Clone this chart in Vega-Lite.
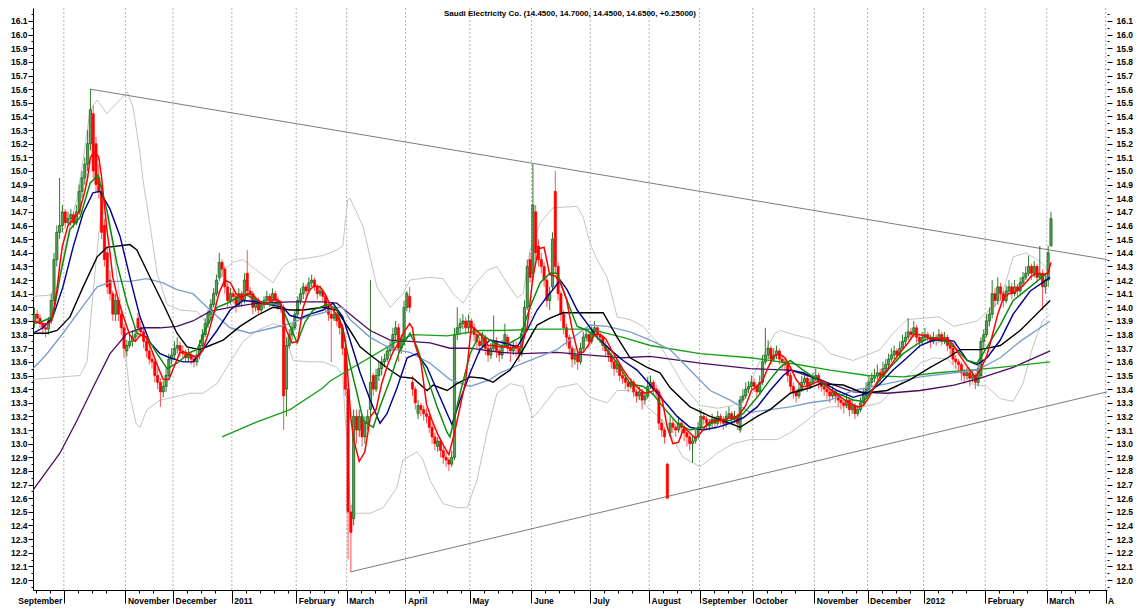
{
"$schema": "https://vega.github.io/schema/vega-lite/v6.json",
"width": 1074, "height": 582,
"autosize": {"type": "none"},
"padding": {"left": 33, "top": 8, "right": 37, "bottom": 19},
"background": "white",
"title": {"text": "Saudi Electricity Co. (14.4500, 14.7000, 14.4500, 14.6500, +0.25000)", "fontSize": 8, "fontWeight": "bold", "font": "Liberation Sans", "anchor": "middle", "frame": "group", "offset": -10, "color": "#000000"},
"config": {"view": {"stroke": null}, "font": "Liberation Sans"},
"datasets": {
"months": [{"t":10.5},{"t":32.5},{"t":49.5},{"t":70.5},{"t":93.5},{"t":111.5},{"t":132.5},{"t":155.5},{"t":177.5},{"t":198.5},{"t":219.5},{"t":237.5},{"t":256.5},{"t":278.5},{"t":297.5},{"t":317.5},{"t":339.5},{"t":361.5},{"t":382.5}],
"trend": [{"s":"a","t":19.9,"p":15.6},{"s":"a","t":383,"p":14.35},{"s":"b","t":112.9,"p":12.06},{"s":"b","t":383,"p":13.38}],
"bb": [
{"s":"u","t":-0.5,"p":14.08},{"s":"u","t":5.6,"p":14.09},{"s":"u","t":8.1,"p":14.15},{"s":"u","t":11.6,"p":14.5},{"s":"u","t":15.2,"p":14.8},{"s":"u","t":17.4,"p":15.08},{"s":"u","t":19.9,"p":15.45},{"s":"u","t":22.4,"p":15.52},{"s":"u","t":25.9,"p":15.42},{"s":"u","t":29.5,"p":15.5},{"s":"u","t":33.1,"p":15.58},{"s":"u","t":35.2,"p":15.47},{"s":"u","t":37.7,"p":15.13},{"s":"u","t":38.8,"p":14.93},{"s":"u","t":41.3,"p":14.6},{"s":"u","t":43.8,"p":14.25},{"s":"u","t":47.4,"p":14.02},{"s":"u","t":52,"p":13.98},{"s":"u","t":58.1,"p":13.97},{"s":"u","t":61.6,"p":13.88},{"s":"u","t":63.5,"p":14.05},{"s":"u","t":67.4,"p":14.27},{"s":"u","t":70.9,"p":14.33},{"s":"u","t":74.5,"p":14.35},{"s":"u","t":79.5,"p":14.27},{"s":"u","t":85.2,"p":14.18},{"s":"u","t":88.8,"p":14.3},{"s":"u","t":92.4,"p":14.35},{"s":"u","t":97.4,"p":14.36},{"s":"u","t":103.1,"p":14.38},{"s":"u","t":108,"p":14.42},{"s":"u","t":110.1,"p":14.45},{"s":"u","t":111.9,"p":14.79},{"s":"u","t":112.7,"p":14.8},{"s":"u","t":117.4,"p":14.59},{"s":"u","t":122.3,"p":14.15},{"s":"u","t":127,"p":14.0},{"s":"u","t":131.6,"p":14.1},{"s":"u","t":134.1,"p":14.2},{"s":"u","t":141.3,"p":14.22},{"s":"u","t":145.9,"p":14.21},{"s":"u","t":149.5,"p":14.1},{"s":"u","t":153.1,"p":14.03},{"s":"u","t":156.6,"p":14.15},{"s":"u","t":161.6,"p":14.27},{"s":"u","t":165.2,"p":14.3},{"s":"u","t":167.4,"p":14.22},{"s":"u","t":172.4,"p":14.07},{"s":"u","t":174.5,"p":14.1},{"s":"u","t":177,"p":14.42},{"s":"u","t":180.6,"p":14.62},{"s":"u","t":185.2,"p":14.73},{"s":"u","t":193.8,"p":14.74},{"s":"u","t":196,"p":14.66},{"s":"u","t":198.4,"p":14.47},{"s":"u","t":200.9,"p":14.35},{"s":"u","t":204.5,"p":14.22},{"s":"u","t":208.1,"p":13.93},{"s":"u","t":212.7,"p":13.91},{"s":"u","t":217.4,"p":13.86},{"s":"u","t":219.9,"p":13.8},{"s":"u","t":223.4,"p":13.72},{"s":"u","t":227,"p":13.6},{"s":"u","t":232,"p":13.42},{"s":"u","t":237.7,"p":13.28},{"s":"u","t":244,"p":13.26},{"s":"u","t":249.5,"p":13.28},{"s":"u","t":254,"p":13.36},{"s":"u","t":258.7,"p":13.59},{"s":"u","t":264.4,"p":13.81},{"s":"u","t":266.5,"p":13.83},{"s":"u","t":271,"p":13.8},{"s":"u","t":277,"p":13.77},{"s":"u","t":280.6,"p":13.74},{"s":"u","t":284.1,"p":13.66},{"s":"u","t":292.4,"p":13.61},{"s":"u","t":302,"p":13.69},{"s":"u","t":306.6,"p":13.81},{"s":"u","t":311.6,"p":13.91},{"s":"u","t":323,"p":13.93},{"s":"u","t":328.4,"p":13.86},{"s":"u","t":336.6,"p":13.9},{"s":"u","t":344.9,"p":14.05},{"s":"u","t":349.5,"p":14.37},{"s":"u","t":354,"p":14.4},{"s":"u","t":358,"p":14.35},{"s":"u","t":361,"p":14.3},{"s":"u","t":362.7,"p":14.2},
{"s":"l","t":-0.5,"p":13.47},{"s":"l","t":10.2,"p":13.49},{"s":"l","t":16.3,"p":13.5},{"s":"l","t":18.8,"p":13.6},{"s":"l","t":20.9,"p":14.1},{"s":"l","t":23.8,"p":14.7},{"s":"l","t":25.9,"p":14.68},{"s":"l","t":28.1,"p":14.45},{"s":"l","t":30.6,"p":14.05},{"s":"l","t":32.4,"p":13.7},{"s":"l","t":34.1,"p":13.35},{"s":"l","t":36.3,"p":13.15},{"s":"l","t":37.7,"p":13.12},{"s":"l","t":40.2,"p":13.25},{"s":"l","t":44.9,"p":13.32},{"s":"l","t":49.5,"p":13.34},{"s":"l","t":55.6,"p":13.37},{"s":"l","t":60.2,"p":13.37},{"s":"l","t":65.2,"p":13.44},{"s":"l","t":69.9,"p":13.6},{"s":"l","t":74.5,"p":13.75},{"s":"l","t":79.5,"p":13.83},{"s":"l","t":85.2,"p":13.88},{"s":"l","t":88.8,"p":13.86},{"s":"l","t":90.2,"p":13.75},{"s":"l","t":92.4,"p":13.61},{"s":"l","t":98.4,"p":13.6},{"s":"l","t":103.1,"p":13.6},{"s":"l","t":108,"p":13.56},{"s":"l","t":110.1,"p":13.5},{"s":"l","t":111.9,"p":12.88},{"s":"l","t":112.7,"p":12.59},{"s":"l","t":113.8,"p":12.49},{"s":"l","t":119.9,"p":12.49},{"s":"l","t":124.5,"p":12.53},{"s":"l","t":129.5,"p":12.68},{"s":"l","t":131.6,"p":12.88},{"s":"l","t":136.6,"p":12.94},{"s":"l","t":138.8,"p":12.88},{"s":"l","t":141.3,"p":12.73},{"s":"l","t":145.9,"p":12.56},{"s":"l","t":150.9,"p":12.53},{"s":"l","t":154.5,"p":12.53},{"s":"l","t":158,"p":12.73},{"s":"l","t":161.6,"p":13.08},{"s":"l","t":165.2,"p":13.37},{"s":"l","t":169.9,"p":13.44},{"s":"l","t":174.5,"p":13.42},{"s":"l","t":178,"p":13.19},{"s":"l","t":180.6,"p":13.25},{"s":"l","t":186.6,"p":13.41},{"s":"l","t":193.8,"p":13.44},{"s":"l","t":198.4,"p":13.34},{"s":"l","t":204.5,"p":13.3},{"s":"l","t":208.1,"p":13.39},{"s":"l","t":212.7,"p":13.39},{"s":"l","t":217.4,"p":13.3},{"s":"l","t":219.9,"p":13.25},{"s":"l","t":224.5,"p":13.17},{"s":"l","t":231.6,"p":12.9},{"s":"l","t":237.7,"p":12.83},{"s":"l","t":243.8,"p":12.93},{"s":"l","t":249.5,"p":13.0},{"s":"l","t":255.6,"p":13.03},{"s":"l","t":265.2,"p":13.03},{"s":"l","t":269.9,"p":13.08},{"s":"l","t":275.9,"p":13.17},{"s":"l","t":280.6,"p":13.25},{"s":"l","t":284.1,"p":13.27},{"s":"l","t":288.8,"p":13.27},{"s":"l","t":294,"p":13.26},{"s":"l","t":298,"p":13.28},{"s":"l","t":302,"p":13.3},{"s":"l","t":306.6,"p":13.39},{"s":"l","t":311.6,"p":13.49},{"s":"l","t":316.3,"p":13.59},{"s":"l","t":321.1,"p":13.63},{"s":"l","t":326.1,"p":13.62},{"s":"l","t":330.6,"p":13.52},{"s":"l","t":334.5,"p":13.44},{"s":"l","t":340,"p":13.42},{"s":"l","t":344.9,"p":13.33},{"s":"l","t":349.5,"p":13.31},{"s":"l","t":353,"p":13.44},{"s":"l","t":356.5,"p":13.71},{"s":"l","t":360,"p":13.9},{"s":"l","t":362.7,"p":13.95}
],
"ma": [
{"s":"p","t":-0.5,"p":12.66},{"s":"p","t":9.1,"p":12.93},{"s":"p","t":15.2,"p":13.17},{"s":"p","t":20.9,"p":13.41},{"s":"p","t":27,"p":13.66},{"s":"p","t":33.1,"p":13.81},{"s":"p","t":38.8,"p":13.85},{"s":"p","t":44.9,"p":13.85},{"s":"p","t":50.9,"p":13.86},{"s":"p","t":56.6,"p":13.9},{"s":"p","t":62.7,"p":13.97},{"s":"p","t":69.9,"p":14.0},{"s":"p","t":79.5,"p":14.03},{"s":"p","t":91.3,"p":14.04},{"s":"p","t":103.1,"p":14.04},{"s":"p","t":108,"p":14.03},{"s":"p","t":112.7,"p":13.95},{"s":"p","t":119.9,"p":13.83},{"s":"p","t":127,"p":13.76},{"s":"p","t":134.1,"p":13.75},{"s":"p","t":141.3,"p":13.74},{"s":"p","t":148.4,"p":13.7},{"s":"p","t":155.6,"p":13.7},{"s":"p","t":166.3,"p":13.67},{"s":"p","t":174.5,"p":13.66},{"s":"p","t":186.6,"p":13.67},{"s":"p","t":198.4,"p":13.65},{"s":"p","t":210.2,"p":13.63},{"s":"p","t":219.9,"p":13.64},{"s":"p","t":237.7,"p":13.59},{"s":"p","t":255.6,"p":13.55},{"s":"p","t":269.9,"p":13.54},{"s":"p","t":280.6,"p":13.47},{"s":"p","t":284.1,"p":13.44},{"s":"p","t":292.4,"p":13.38},{"s":"p","t":304.5,"p":13.37},{"s":"p","t":316.3,"p":13.39},{"s":"p","t":328.4,"p":13.43},{"s":"p","t":337.7,"p":13.48},{"s":"p","t":349.5,"p":13.56},{"s":"p","t":362.7,"p":13.68},
{"s":"g","t":67,"p":13.05},{"s":"g","t":79.5,"p":13.16},{"s":"g","t":91.3,"p":13.25},{"s":"g","t":103.1,"p":13.41},{"s":"g","t":105.6,"p":13.46},{"s":"g","t":116.3,"p":13.59},{"s":"g","t":129.5,"p":13.75},{"s":"g","t":135.2,"p":13.8},{"s":"g","t":147.4,"p":13.79},{"s":"g","t":153.1,"p":13.81},{"s":"g","t":159.1,"p":13.83},{"s":"g","t":166.3,"p":13.83},{"s":"g","t":180.6,"p":13.84},{"s":"g","t":198.4,"p":13.84},{"s":"g","t":210.2,"p":13.78},{"s":"g","t":219.9,"p":13.72},{"s":"g","t":237.7,"p":13.66},{"s":"g","t":255.6,"p":13.63},{"s":"g","t":269.9,"p":13.59},{"s":"g","t":284.1,"p":13.54},{"s":"g","t":297.4,"p":13.5},{"s":"g","t":310.2,"p":13.49},{"s":"g","t":322.5,"p":13.52},{"s":"g","t":334.1,"p":13.54},{"s":"g","t":344.9,"p":13.56},{"s":"g","t":362.7,"p":13.6},
{"s":"lb","t":-0.5,"p":13.55},{"s":"lb","t":4.5,"p":13.66},{"s":"lb","t":10.2,"p":13.81},{"s":"lb","t":16.3,"p":13.98},{"s":"lb","t":22.4,"p":14.15},{"s":"lb","t":28.1,"p":14.19},{"s":"lb","t":34.1,"p":14.19},{"s":"lb","t":40.2,"p":14.21},{"s":"lb","t":45.9,"p":14.18},{"s":"lb","t":50.9,"p":14.13},{"s":"lb","t":56.6,"p":14.1},{"s":"lb","t":62.7,"p":13.98},{"s":"lb","t":69.9,"p":13.85},{"s":"lb","t":77,"p":13.81},{"s":"lb","t":85.2,"p":13.85},{"s":"lb","t":91.3,"p":13.88},{"s":"lb","t":97.4,"p":13.93},{"s":"lb","t":103.1,"p":13.96},{"s":"lb","t":108,"p":14.0},{"s":"lb","t":110.1,"p":14.0},{"s":"lb","t":112.7,"p":13.91},{"s":"lb","t":119.9,"p":13.78},{"s":"lb","t":127,"p":13.7},{"s":"lb","t":134.1,"p":13.67},{"s":"lb","t":141.3,"p":13.59},{"s":"lb","t":148.4,"p":13.47},{"s":"lb","t":155.6,"p":13.42},{"s":"lb","t":162.7,"p":13.47},{"s":"lb","t":166.3,"p":13.52},{"s":"lb","t":174.5,"p":13.59},{"s":"lb","t":186.6,"p":13.69},{"s":"lb","t":192.4,"p":13.78},{"s":"lb","t":198.4,"p":13.87},{"s":"lb","t":204.5,"p":13.86},{"s":"lb","t":212.7,"p":13.82},{"s":"lb","t":219.9,"p":13.76},{"s":"lb","t":227,"p":13.69},{"s":"lb","t":234.1,"p":13.54},{"s":"lb","t":241.3,"p":13.39},{"s":"lb","t":248.4,"p":13.32},{"s":"lb","t":255.6,"p":13.23},{"s":"lb","t":262.7,"p":13.25},{"s":"lb","t":269.9,"p":13.27},{"s":"lb","t":277,"p":13.3},{"s":"lb","t":284.1,"p":13.32},{"s":"lb","t":292.4,"p":13.39},{"s":"lb","t":304.5,"p":13.44},{"s":"lb","t":316.3,"p":13.49},{"s":"lb","t":328.4,"p":13.52},{"s":"lb","t":336.6,"p":13.54},{"s":"lb","t":344.9,"p":13.63},{"s":"lb","t":352,"p":13.75},{"s":"lb","t":362.7,"p":13.9},
{"s":"k","t":-0.5,"p":13.81},{"s":"k","t":4.5,"p":13.81},{"s":"k","t":8.1,"p":13.83},{"s":"k","t":12.7,"p":13.93},{"s":"k","t":17.4,"p":14.15},{"s":"k","t":22.4,"p":14.37},{"s":"k","t":25.9,"p":14.44},{"s":"k","t":34.1,"p":14.46},{"s":"k","t":36.6,"p":14.42},{"s":"k","t":41.3,"p":14.22},{"s":"k","t":45.9,"p":14.03},{"s":"k","t":50.9,"p":13.81},{"s":"k","t":54.5,"p":13.71},{"s":"k","t":59.1,"p":13.69},{"s":"k","t":62.7,"p":13.72},{"s":"k","t":67.4,"p":13.76},{"s":"k","t":73.4,"p":13.86},{"s":"k","t":79.5,"p":13.94},{"s":"k","t":85.2,"p":14.0},{"s":"k","t":91.3,"p":13.98},{"s":"k","t":96,"p":13.98},{"s":"k","t":103.1,"p":14.0},{"s":"k","t":108,"p":13.98},{"s":"k","t":112.7,"p":13.83},{"s":"k","t":116.3,"p":13.71},{"s":"k","t":119.9,"p":13.65},{"s":"k","t":127,"p":13.54},{"s":"k","t":130.6,"p":13.49},{"s":"k","t":135.2,"p":13.48},{"s":"k","t":140.2,"p":13.39},{"s":"k","t":142.4,"p":13.43},{"s":"k","t":147.4,"p":13.39},{"s":"k","t":150.9,"p":13.44},{"s":"k","t":155.6,"p":13.49},{"s":"k","t":160.2,"p":13.48},{"s":"k","t":163.8,"p":13.45},{"s":"k","t":166.3,"p":13.49},{"s":"k","t":169.9,"p":13.54},{"s":"k","t":174.5,"p":13.69},{"s":"k","t":179.5,"p":13.87},{"s":"k","t":184.1,"p":13.92},{"s":"k","t":188.8,"p":13.96},{"s":"k","t":198.4,"p":13.96},{"s":"k","t":203.1,"p":13.96},{"s":"k","t":208.1,"p":13.78},{"s":"k","t":212.7,"p":13.63},{"s":"k","t":218.8,"p":13.56},{"s":"k","t":223.4,"p":13.52},{"s":"k","t":227,"p":13.41},{"s":"k","t":234.1,"p":13.27},{"s":"k","t":241.3,"p":13.2},{"s":"k","t":248.4,"p":13.15},{"s":"k","t":252,"p":13.12},{"s":"k","t":258.1,"p":13.2},{"s":"k","t":262.7,"p":13.25},{"s":"k","t":269.9,"p":13.37},{"s":"k","t":277,"p":13.41},{"s":"k","t":280.6,"p":13.44},{"s":"k","t":288.8,"p":13.43},{"s":"k","t":296.1,"p":13.37},{"s":"k","t":304.5,"p":13.39},{"s":"k","t":312.7,"p":13.47},{"s":"k","t":319.9,"p":13.56},{"s":"k","t":326.1,"p":13.63},{"s":"k","t":330.6,"p":13.69},{"s":"k","t":337.7,"p":13.69},{"s":"k","t":344.9,"p":13.72},{"s":"k","t":352,"p":13.83},{"s":"k","t":362.7,"p":14.05},
{"s":"b","t":-0.5,"p":13.81},{"s":"b","t":3.1,"p":13.85},{"s":"b","t":6.6,"p":13.93},{"s":"b","t":10.2,"p":14.15},{"s":"b","t":13.8,"p":14.44},{"s":"b","t":17.4,"p":14.69},{"s":"b","t":20.9,"p":14.84},{"s":"b","t":23.4,"p":14.85},{"s":"b","t":27,"p":14.72},{"s":"b","t":30.6,"p":14.52},{"s":"b","t":34.1,"p":14.22},{"s":"b","t":37.7,"p":13.93},{"s":"b","t":41.3,"p":13.74},{"s":"b","t":44.9,"p":13.66},{"s":"b","t":48.4,"p":13.63},{"s":"b","t":53.1,"p":13.6},{"s":"b","t":56.6,"p":13.6},{"s":"b","t":60.2,"p":13.69},{"s":"b","t":65.2,"p":13.83},{"s":"b","t":69.9,"p":13.98},{"s":"b","t":74.5,"p":14.05},{"s":"b","t":79.5,"p":14.04},{"s":"b","t":84.1,"p":14.02},{"s":"b","t":88.8,"p":14.0},{"s":"b","t":91.3,"p":13.94},{"s":"b","t":94.9,"p":13.92},{"s":"b","t":98.4,"p":13.95},{"s":"b","t":103.1,"p":13.98},{"s":"b","t":106.6,"p":14.03},{"s":"b","t":110.1,"p":13.93},{"s":"b","t":112.7,"p":13.76},{"s":"b","t":116.3,"p":13.52},{"s":"b","t":119.9,"p":13.32},{"s":"b","t":123.4,"p":13.15},{"s":"b","t":125.9,"p":13.22},{"s":"b","t":129.5,"p":13.41},{"s":"b","t":133.1,"p":13.63},{"s":"b","t":136.6,"p":13.66},{"s":"b","t":140.2,"p":13.56},{"s":"b","t":143.8,"p":13.39},{"s":"b","t":147.4,"p":13.22},{"s":"b","t":149.1,"p":13.14},{"s":"b","t":152,"p":13.32},{"s":"b","t":155.6,"p":13.52},{"s":"b","t":159.1,"p":13.69},{"s":"b","t":162.7,"p":13.76},{"s":"b","t":167.4,"p":13.74},{"s":"b","t":172.4,"p":13.71},{"s":"b","t":175.9,"p":13.83},{"s":"b","t":179.5,"p":13.98},{"s":"b","t":183.1,"p":14.08},{"s":"b","t":185.2,"p":14.13},{"s":"b","t":187.7,"p":14.2},{"s":"b","t":190.2,"p":14.13},{"s":"b","t":193.8,"p":13.98},{"s":"b","t":197.4,"p":13.88},{"s":"b","t":200.9,"p":13.78},{"s":"b","t":205.6,"p":13.69},{"s":"b","t":210.2,"p":13.61},{"s":"b","t":215.2,"p":13.54},{"s":"b","t":219.9,"p":13.43},{"s":"b","t":224.5,"p":13.32},{"s":"b","t":229.5,"p":13.2},{"s":"b","t":234.1,"p":13.12},{"s":"b","t":238.8,"p":13.1},{"s":"b","t":243.8,"p":13.12},{"s":"b","t":248.4,"p":13.15},{"s":"b","t":253.1,"p":13.19},{"s":"b","t":258.1,"p":13.27},{"s":"b","t":262.7,"p":13.39},{"s":"b","t":267.4,"p":13.5},{"s":"b","t":269.9,"p":13.54},{"s":"b","t":274.5,"p":13.52},{"s":"b","t":279.5,"p":13.47},{"s":"b","t":284.1,"p":13.42},{"s":"b","t":286.6,"p":13.39},{"s":"b","t":292.4,"p":13.34},{"s":"b","t":297.4,"p":13.37},{"s":"b","t":302,"p":13.44},{"s":"b","t":306.6,"p":13.54},{"s":"b","t":311.6,"p":13.63},{"s":"b","t":316.3,"p":13.72},{"s":"b","t":321.1,"p":13.76},{"s":"b","t":326.1,"p":13.76},{"s":"b","t":328.4,"p":13.75},{"s":"b","t":333.1,"p":13.61},{"s":"b","t":336.6,"p":13.58},{"s":"b","t":340.2,"p":13.63},{"s":"b","t":344.9,"p":13.76},{"s":"b","t":349.5,"p":13.95},{"s":"b","t":355.6,"p":14.12},{"s":"b","t":362.7,"p":14.22},
{"s":"gt","t":-0.5,"p":13.88},{"s":"gt","t":3.1,"p":13.9},{"s":"gt","t":6.6,"p":13.93},{"s":"gt","t":9.1,"p":14.22},{"s":"gt","t":12.7,"p":14.57},{"s":"gt","t":16.3,"p":14.66},{"s":"gt","t":19.9,"p":14.91},{"s":"gt","t":22.7,"p":14.97},{"s":"gt","t":25.9,"p":14.71},{"s":"gt","t":29.5,"p":14.32},{"s":"gt","t":33.1,"p":14.03},{"s":"gt","t":36.6,"p":13.81},{"s":"gt","t":40.2,"p":13.78},{"s":"gt","t":43.8,"p":13.66},{"s":"gt","t":47.4,"p":13.55},{"s":"gt","t":50.9,"p":13.59},{"s":"gt","t":55.6,"p":13.67},{"s":"gt","t":58.1,"p":13.69},{"s":"gt","t":61.6,"p":13.86},{"s":"gt","t":65.2,"p":14.0},{"s":"gt","t":68.8,"p":14.03},{"s":"gt","t":72.4,"p":14.07},{"s":"gt","t":75.9,"p":14.09},{"s":"gt","t":79.5,"p":14.05},{"s":"gt","t":84.1,"p":14.02},{"s":"gt","t":87.7,"p":14.03},{"s":"gt","t":91.3,"p":13.86},{"s":"gt","t":93.8,"p":13.74},{"s":"gt","t":96.6,"p":13.89},{"s":"gt","t":99.5,"p":13.98},{"s":"gt","t":104.5,"p":14.02},{"s":"gt","t":108,"p":13.99},{"s":"gt","t":110.1,"p":13.83},{"s":"gt","t":112.7,"p":13.58},{"s":"gt","t":115.2,"p":13.37},{"s":"gt","t":117.4,"p":13.17},{"s":"gt","t":121,"p":13.12},{"s":"gt","t":123.4,"p":13.27},{"s":"gt","t":127,"p":13.47},{"s":"gt","t":130.6,"p":13.69},{"s":"gt","t":134.1,"p":13.81},{"s":"gt","t":136.6,"p":13.71},{"s":"gt","t":140.2,"p":13.49},{"s":"gt","t":143.8,"p":13.27},{"s":"gt","t":147.4,"p":13.08},{"s":"gt","t":148.4,"p":13.05},{"s":"gt","t":152,"p":13.37},{"s":"gt","t":155.6,"p":13.66},{"s":"gt","t":159.1,"p":13.81},{"s":"gt","t":162.7,"p":13.76},{"s":"gt","t":167.4,"p":13.71},{"s":"gt","t":173.4,"p":13.78},{"s":"gt","t":177,"p":14.0},{"s":"gt","t":180.6,"p":14.18},{"s":"gt","t":184.1,"p":14.25},{"s":"gt","t":186.6,"p":14.25},{"s":"gt","t":190.2,"p":14.05},{"s":"gt","t":193.8,"p":13.86},{"s":"gt","t":197.4,"p":13.83},{"s":"gt","t":200.9,"p":13.78},{"s":"gt","t":204.5,"p":13.69},{"s":"gt","t":208.1,"p":13.59},{"s":"gt","t":212.7,"p":13.44},{"s":"gt","t":217.4,"p":13.42},{"s":"gt","t":221,"p":13.36},{"s":"gt","t":224.5,"p":13.27},{"s":"gt","t":229.5,"p":13.15},{"s":"gt","t":234.1,"p":13.1},{"s":"gt","t":238.8,"p":13.12},{"s":"gt","t":243.8,"p":13.17},{"s":"gt","t":248.4,"p":13.17},{"s":"gt","t":253.1,"p":13.22},{"s":"gt","t":258.1,"p":13.34},{"s":"gt","t":262.7,"p":13.47},{"s":"gt","t":266.3,"p":13.56},{"s":"gt","t":269.9,"p":13.61},{"s":"gt","t":274.5,"p":13.54},{"s":"gt","t":279.5,"p":13.47},{"s":"gt","t":284.1,"p":13.4},{"s":"gt","t":286.6,"p":13.37},{"s":"gt","t":292.4,"p":13.32},{"s":"gt","t":296.1,"p":13.31},{"s":"gt","t":300.9,"p":13.44},{"s":"gt","t":305.6,"p":13.56},{"s":"gt","t":310.2,"p":13.66},{"s":"gt","t":315.2,"p":13.73},{"s":"gt","t":319.9,"p":13.78},{"s":"gt","t":324.6,"p":13.76},{"s":"gt","t":328.4,"p":13.71},{"s":"gt","t":333.1,"p":13.61},{"s":"gt","t":336.6,"p":13.59},{"s":"gt","t":340.2,"p":13.71},{"s":"gt","t":344.9,"p":13.87},{"s":"gt","t":349.5,"p":14.05},{"s":"gt","t":355.6,"p":14.15},{"s":"gt","t":362.7,"p":14.27},
{"s":"r","t":-0.5,"p":13.9},{"s":"r","t":3,"p":13.88},{"s":"r","t":5,"p":13.88},{"s":"r","t":6,"p":13.9},{"s":"r","t":7,"p":14.0},{"s":"r","t":8,"p":14.12},{"s":"r","t":9,"p":14.3},{"s":"r","t":10,"p":14.45},{"s":"r","t":12,"p":14.6},{"s":"r","t":14,"p":14.65},{"s":"r","t":16,"p":14.7},{"s":"r","t":18,"p":14.85},{"s":"r","t":19,"p":14.95},{"s":"r","t":20,"p":15.1},{"s":"r","t":21,"p":15.13},{"s":"r","t":22,"p":15.13},{"s":"r","t":23,"p":15.1},{"s":"r","t":24,"p":14.95},{"s":"r","t":25,"p":14.75},{"s":"r","t":26,"p":14.55},{"s":"r","t":27,"p":14.4},{"s":"r","t":28,"p":14.22},{"s":"r","t":30,"p":14.05},{"s":"r","t":32,"p":13.92},{"s":"r","t":34,"p":13.8},{"s":"r","t":36,"p":13.75},{"s":"r","t":38,"p":13.8},{"s":"r","t":40,"p":13.78},{"s":"r","t":42,"p":13.68},{"s":"r","t":44,"p":13.57},{"s":"r","t":46,"p":13.47},{"s":"r","t":48,"p":13.47},{"s":"r","t":50,"p":13.57},{"s":"r","t":52,"p":13.67},{"s":"r","t":54,"p":13.67},{"s":"r","t":56,"p":13.65},{"s":"r","t":58,"p":13.63},{"s":"r","t":60,"p":13.68},{"s":"r","t":62,"p":13.8},{"s":"r","t":64,"p":13.95},{"s":"r","t":66,"p":14.11},{"s":"r","t":68,"p":14.2},{"s":"r","t":70,"p":14.18},{"s":"r","t":72,"p":14.1},{"s":"r","t":74,"p":14.07},{"s":"r","t":76,"p":14.1},{"s":"r","t":78,"p":14.09},{"s":"r","t":80,"p":14.05},{"s":"r","t":82,"p":14.02},{"s":"r","t":84,"p":14.04},{"s":"r","t":86,"p":14.06},{"s":"r","t":88,"p":14.04},{"s":"r","t":89,"p":13.9},{"s":"r","t":90,"p":13.83},{"s":"r","t":92,"p":13.74},{"s":"r","t":94,"p":13.75},{"s":"r","t":96,"p":14.0},{"s":"r","t":98,"p":14.12},{"s":"r","t":100,"p":14.16},{"s":"r","t":102,"p":14.15},{"s":"r","t":104,"p":14.09},{"s":"r","t":106,"p":14.0},{"s":"r","t":108,"p":13.94},{"s":"r","t":110,"p":13.86},{"s":"r","t":111,"p":13.76},{"s":"r","t":112,"p":13.47},{"s":"r","t":113,"p":13.19},{"s":"r","t":114,"p":13.03},{"s":"r","t":116,"p":12.87},{"s":"r","t":118,"p":12.94},{"s":"r","t":120,"p":13.2},{"s":"r","t":122,"p":13.25},{"s":"r","t":124,"p":13.44},{"s":"r","t":126,"p":13.57},{"s":"r","t":128,"p":13.67},{"s":"r","t":130,"p":13.74},{"s":"r","t":132,"p":13.82},{"s":"r","t":134,"p":13.88},{"s":"r","t":135,"p":13.85},{"s":"r","t":136,"p":13.72},{"s":"r","t":138,"p":13.6},{"s":"r","t":140,"p":13.29},{"s":"r","t":142,"p":13.17},{"s":"r","t":144,"p":13.07},{"s":"r","t":146,"p":12.99},{"s":"r","t":148,"p":12.92},{"s":"r","t":150,"p":13.08},{"s":"r","t":152,"p":13.27},{"s":"r","t":154,"p":13.46},{"s":"r","t":156,"p":13.86},{"s":"r","t":158,"p":13.83},{"s":"r","t":160,"p":13.78},{"s":"r","t":162,"p":13.72},{"s":"r","t":164,"p":13.72},{"s":"r","t":166,"p":13.71},{"s":"r","t":168,"p":13.71},{"s":"r","t":170,"p":13.7},{"s":"r","t":172,"p":13.71},{"s":"r","t":174,"p":13.71},{"s":"r","t":176,"p":13.86},{"s":"r","t":178,"p":14.22},{"s":"r","t":180,"p":14.43},{"s":"r","t":182,"p":14.44},{"s":"r","t":184,"p":14.24},{"s":"r","t":186,"p":14.23},{"s":"r","t":188,"p":14.17},{"s":"r","t":190,"p":14.06},{"s":"r","t":192,"p":13.84},{"s":"r","t":194,"p":13.67},{"s":"r","t":196,"p":13.67},{"s":"r","t":198,"p":13.73},{"s":"r","t":200,"p":13.8},{"s":"r","t":202,"p":13.8},{"s":"r","t":204,"p":13.77},{"s":"r","t":206,"p":13.69},{"s":"r","t":208,"p":13.62},{"s":"r","t":210,"p":13.55},{"s":"r","t":212,"p":13.49},{"s":"r","t":214,"p":13.44},{"s":"r","t":216,"p":13.4},{"s":"r","t":218,"p":13.37},{"s":"r","t":220,"p":13.38},{"s":"r","t":222,"p":13.4},{"s":"r","t":224,"p":13.34},{"s":"r","t":226,"p":13.12},{"s":"r","t":228,"p":13.0},{"s":"r","t":230,"p":13.01},{"s":"r","t":232,"p":13.12},{"s":"r","t":234,"p":13.08},{"s":"r","t":236,"p":13.04},{"s":"r","t":238,"p":13.08},{"s":"r","t":240,"p":13.14},{"s":"r","t":242,"p":13.17},{"s":"r","t":244,"p":13.17},{"s":"r","t":246,"p":13.17},{"s":"r","t":248,"p":13.19},{"s":"r","t":250,"p":13.19},{"s":"r","t":252,"p":13.22},{"s":"r","t":254,"p":13.28},{"s":"r","t":256,"p":13.39},{"s":"r","t":258,"p":13.42},{"s":"r","t":260,"p":13.46},{"s":"r","t":262,"p":13.56},{"s":"r","t":264,"p":13.64},{"s":"r","t":266,"p":13.66},{"s":"r","t":268,"p":13.63},{"s":"r","t":270,"p":13.56},{"s":"r","t":272,"p":13.47},{"s":"r","t":274,"p":13.42},{"s":"r","t":276,"p":13.42},{"s":"r","t":278,"p":13.44},{"s":"r","t":280,"p":13.46},{"s":"r","t":282,"p":13.45},{"s":"r","t":284,"p":13.4},{"s":"r","t":286,"p":13.37},{"s":"r","t":288,"p":13.34},{"s":"r","t":290,"p":13.31},{"s":"r","t":292,"p":13.29},{"s":"r","t":294,"p":13.27},{"s":"r","t":296,"p":13.28},{"s":"r","t":298,"p":13.34},{"s":"r","t":300,"p":13.42},{"s":"r","t":302,"p":13.49},{"s":"r","t":304,"p":13.53},{"s":"r","t":306,"p":13.58},{"s":"r","t":308,"p":13.64},{"s":"r","t":310,"p":13.69},{"s":"r","t":312,"p":13.74},{"s":"r","t":314,"p":13.8},{"s":"r","t":316,"p":13.8},{"s":"r","t":318,"p":13.79},{"s":"r","t":320,"p":13.77},{"s":"r","t":322,"p":13.77},{"s":"r","t":324,"p":13.77},{"s":"r","t":326,"p":13.76},{"s":"r","t":328,"p":13.73},{"s":"r","t":330,"p":13.66},{"s":"r","t":332,"p":13.6},{"s":"r","t":334,"p":13.54},{"s":"r","t":336,"p":13.49},{"s":"r","t":338,"p":13.55},{"s":"r","t":340,"p":13.64},{"s":"r","t":342,"p":13.79},{"s":"r","t":344,"p":13.95},{"s":"r","t":346,"p":14.07},{"s":"r","t":348,"p":14.1},{"s":"r","t":350,"p":14.11},{"s":"r","t":352,"p":14.14},{"s":"r","t":354,"p":14.18},{"s":"r","t":356,"p":14.23},{"s":"r","t":358,"p":14.25},{"s":"r","t":360,"p":14.24},{"s":"r","t":362,"p":14.25},{"s":"r","t":363,"p":14.33}
],
"candles": [
{"t":0,"o":13.9,"h":14.0,"l":13.85,"c":13.95},{"t":1,"o":13.95,"h":13.98,"l":13.88,"c":13.92},{"t":2,"o":13.92,"h":13.95,"l":13.85,"c":13.88},{"t":3,"o":13.88,"h":13.9,"l":13.8,"c":13.85},{"t":4,"o":13.85,"h":13.88,"l":13.78,"c":13.84},{"t":5,"o":13.84,"h":13.93,"l":13.8,"c":13.9},{"t":6,"o":13.9,"h":14.1,"l":13.88,"c":14.05},{"t":7,"o":14.05,"h":14.4,"l":14.02,"c":14.35},{"t":8,"o":14.35,"h":14.6,"l":14.3,"c":14.55},{"t":9,"o":14.55,"h":14.95,"l":14.5,"c":14.6},
{"t":10,"o":14.6,"h":14.75,"l":14.55,"c":14.7},{"t":11,"o":14.7,"h":14.72,"l":14.58,"c":14.62},{"t":12,"o":14.62,"h":14.7,"l":14.6,"c":14.65},{"t":13,"o":14.65,"h":14.72,"l":14.6,"c":14.68},{"t":14,"o":14.68,"h":14.7,"l":14.58,"c":14.62},{"t":15,"o":14.62,"h":14.75,"l":14.6,"c":14.7},{"t":16,"o":14.7,"h":14.9,"l":14.68,"c":14.85},{"t":17,"o":14.85,"h":15.0,"l":14.8,"c":14.95},{"t":18,"o":14.95,"h":15.1,"l":14.9,"c":15.05},{"t":19,"o":15.05,"h":15.3,"l":15.0,"c":15.2},
{"t":20,"o":15.2,"h":15.6,"l":15.15,"c":15.45},{"t":21,"o":15.42,"h":15.48,"l":14.95,"c":15.0},{"t":22,"o":15.2,"h":15.25,"l":14.85,"c":14.9},{"t":23,"o":14.95,"h":15.05,"l":14.8,"c":14.85},{"t":24,"o":14.85,"h":14.9,"l":14.5,"c":14.55},{"t":25,"o":14.6,"h":14.65,"l":14.3,"c":14.35},{"t":26,"o":14.4,"h":14.45,"l":14.1,"c":14.15},{"t":27,"o":14.2,"h":14.27,"l":14.05,"c":14.1},{"t":28,"o":14.1,"h":14.12,"l":13.9,"c":13.95},{"t":29,"o":13.95,"h":14.1,"l":13.9,"c":14.05},
{"t":30,"o":14.05,"h":14.07,"l":13.9,"c":13.95},{"t":31,"o":13.95,"h":13.98,"l":13.8,"c":13.85},{"t":32,"o":13.85,"h":13.88,"l":13.63,"c":13.7},{"t":33,"o":13.68,"h":13.76,"l":13.64,"c":13.72},{"t":34,"o":13.72,"h":13.8,"l":13.7,"c":13.75},{"t":35,"o":13.75,"h":13.83,"l":13.71,"c":13.78},{"t":36,"o":13.78,"h":13.85,"l":13.75,"c":13.8},{"t":37,"o":13.92,"h":13.96,"l":13.78,"c":13.85},{"t":38,"o":13.85,"h":13.9,"l":13.78,"c":13.82},{"t":39,"o":13.82,"h":13.85,"l":13.7,"c":13.75},
{"t":40,"o":13.75,"h":13.78,"l":13.63,"c":13.68},{"t":41,"o":13.68,"h":13.72,"l":13.58,"c":13.62},{"t":42,"o":13.62,"h":13.66,"l":13.55,"c":13.6},{"t":43,"o":13.6,"h":13.62,"l":13.45,"c":13.5},{"t":44,"o":13.5,"h":13.55,"l":13.4,"c":13.45},{"t":45,"o":13.45,"h":13.48,"l":13.27,"c":13.38},{"t":46,"o":13.38,"h":13.46,"l":13.34,"c":13.42},{"t":47,"o":13.42,"h":13.55,"l":13.38,"c":13.5},{"t":48,"o":13.5,"h":13.66,"l":13.48,"c":13.62},{"t":49,"o":13.62,"h":13.7,"l":13.58,"c":13.65},
{"t":50,"o":13.65,"h":13.75,"l":13.62,"c":13.7},{"t":51,"o":13.7,"h":13.78,"l":13.66,"c":13.72},{"t":52,"o":13.72,"h":13.75,"l":13.64,"c":13.68},{"t":53,"o":13.68,"h":13.72,"l":13.62,"c":13.66},{"t":54,"o":13.66,"h":13.69,"l":13.6,"c":13.63},{"t":55,"o":13.63,"h":13.7,"l":13.6,"c":13.65},{"t":56,"o":13.65,"h":13.68,"l":13.58,"c":13.62},{"t":57,"o":13.62,"h":13.65,"l":13.56,"c":13.6},{"t":58,"o":13.6,"h":13.68,"l":13.57,"c":13.65},{"t":59,"o":13.65,"h":13.76,"l":13.62,"c":13.72},
{"t":60,"o":13.72,"h":13.84,"l":13.7,"c":13.8},{"t":61,"o":13.8,"h":13.92,"l":13.78,"c":13.88},{"t":62,"o":13.88,"h":13.98,"l":13.85,"c":13.95},{"t":63,"o":13.95,"h":14.06,"l":13.92,"c":14.02},{"t":64,"o":14.02,"h":14.14,"l":14.0,"c":14.1},{"t":65,"o":14.1,"h":14.24,"l":14.08,"c":14.2},{"t":66,"o":14.22,"h":14.4,"l":14.2,"c":14.33},{"t":67,"o":14.33,"h":14.35,"l":14.22,"c":14.28},{"t":68,"o":14.28,"h":14.3,"l":14.1,"c":14.15},{"t":69,"o":14.15,"h":14.18,"l":14.0,"c":14.05},
{"t":70,"o":14.05,"h":14.14,"l":14.02,"c":14.1},{"t":71,"o":14.1,"h":14.13,"l":14.03,"c":14.08},{"t":72,"o":14.08,"h":14.1,"l":13.96,"c":14.02},{"t":73,"o":14.02,"h":14.14,"l":14.0,"c":14.1},{"t":74,"o":14.1,"h":14.12,"l":14.0,"c":14.05},{"t":75,"o":14.05,"h":14.25,"l":14.03,"c":14.2},{"t":76,"o":14.25,"h":14.42,"l":14.08,"c":14.12},{"t":77,"o":14.12,"h":14.15,"l":14.05,"c":14.1},{"t":78,"o":14.1,"h":14.12,"l":13.95,"c":14.0},{"t":79,"o":14.0,"h":14.08,"l":13.97,"c":14.05},
{"t":80,"o":14.05,"h":14.07,"l":13.94,"c":13.98},{"t":81,"o":13.98,"h":14.05,"l":13.95,"c":14.02},{"t":82,"o":14.02,"h":14.08,"l":13.99,"c":14.05},{"t":83,"o":14.05,"h":14.12,"l":14.02,"c":14.08},{"t":84,"o":14.08,"h":14.1,"l":14.0,"c":14.05},{"t":85,"o":14.05,"h":14.14,"l":14.03,"c":14.1},{"t":86,"o":14.1,"h":14.12,"l":14.02,"c":14.05},{"t":87,"o":14.05,"h":14.08,"l":13.98,"c":14.02},{"t":88,"o":14.02,"h":14.05,"l":13.96,"c":14.0},{"t":89,"o":14.0,"h":14.02,"l":13.1,"c":13.35},
{"t":90,"o":13.4,"h":13.78,"l":13.2,"c":13.72},{"t":91,"o":13.72,"h":13.84,"l":13.7,"c":13.8},{"t":92,"o":13.8,"h":13.88,"l":13.76,"c":13.85},{"t":93,"o":13.85,"h":13.98,"l":13.83,"c":13.95},{"t":94,"o":13.95,"h":14.08,"l":13.92,"c":14.05},{"t":95,"o":14.05,"h":14.14,"l":14.02,"c":14.1},{"t":96,"o":14.1,"h":14.18,"l":14.06,"c":14.15},{"t":97,"o":14.15,"h":14.17,"l":14.08,"c":14.12},{"t":98,"o":14.12,"h":14.22,"l":14.1,"c":14.18},{"t":99,"o":14.18,"h":14.24,"l":14.15,"c":14.2},
{"t":100,"o":14.2,"h":14.22,"l":14.12,"c":14.15},{"t":101,"o":14.15,"h":14.17,"l":14.06,"c":14.1},{"t":102,"o":14.1,"h":14.16,"l":14.08,"c":14.12},{"t":103,"o":14.12,"h":14.14,"l":14.04,"c":14.08},{"t":104,"o":14.08,"h":14.1,"l":13.96,"c":14.0},{"t":105,"o":14.0,"h":14.03,"l":13.9,"c":13.95},{"t":106,"o":13.95,"h":13.98,"l":13.6,"c":13.92},{"t":107,"o":13.92,"h":13.98,"l":13.9,"c":13.95},{"t":108,"o":13.95,"h":13.97,"l":13.86,"c":13.9},{"t":109,"o":13.9,"h":13.93,"l":13.8,"c":13.85},
{"t":110,"o":13.85,"h":13.88,"l":13.65,"c":13.7},{"t":111,"o":13.7,"h":13.72,"l":13.35,"c":13.4},{"t":112,"o":13.4,"h":13.45,"l":12.15,"c":12.5},{"t":113,"o":12.5,"h":12.55,"l":12.06,"c":12.35},{"t":114,"o":12.45,"h":13.25,"l":12.4,"c":13.2},{"t":115,"o":13.2,"h":13.25,"l":13.0,"c":13.1},{"t":116,"o":13.1,"h":13.25,"l":13.05,"c":13.2},{"t":117,"o":13.2,"h":13.22,"l":12.98,"c":13.05},{"t":118,"o":13.05,"h":13.2,"l":13.0,"c":13.15},{"t":119,"o":13.15,"h":13.25,"l":13.1,"c":13.2},
{"t":120,"o":13.25,"h":14.2,"l":13.2,"c":13.45},{"t":121,"o":13.5,"h":13.52,"l":13.35,"c":13.4},{"t":122,"o":13.4,"h":13.55,"l":13.38,"c":13.5},{"t":123,"o":13.5,"h":13.6,"l":13.46,"c":13.55},{"t":124,"o":13.55,"h":13.64,"l":13.5,"c":13.6},{"t":125,"o":13.6,"h":13.66,"l":13.56,"c":13.62},{"t":126,"o":13.62,"h":13.72,"l":13.6,"c":13.68},{"t":127,"o":13.68,"h":13.75,"l":13.64,"c":13.7},{"t":128,"o":13.7,"h":13.85,"l":13.68,"c":13.8},{"t":129,"o":13.8,"h":13.9,"l":13.76,"c":13.85},
{"t":130,"o":13.85,"h":13.88,"l":13.6,"c":13.7},{"t":131,"o":13.7,"h":13.8,"l":13.66,"c":13.75},{"t":132,"o":13.75,"h":14.05,"l":13.72,"c":14.0},{"t":133,"o":14.0,"h":14.12,"l":13.97,"c":14.1},{"t":134,"o":14.08,"h":14.15,"l":13.96,"c":14.0},{"t":135,"o":13.45,"h":13.5,"l":13.35,"c":13.4},{"t":136,"o":13.4,"h":13.42,"l":13.25,"c":13.3},{"t":137,"o":13.22,"h":13.32,"l":13.18,"c":13.28},{"t":138,"o":13.28,"h":13.3,"l":13.2,"c":13.25},{"t":139,"o":13.25,"h":13.28,"l":13.17,"c":13.22},
{"t":140,"o":13.22,"h":13.26,"l":13.15,"c":13.2},{"t":141,"o":13.2,"h":13.22,"l":13.08,"c":13.12},{"t":142,"o":13.12,"h":13.15,"l":13.0,"c":13.05},{"t":143,"o":13.05,"h":13.08,"l":12.95,"c":13.0},{"t":144,"o":12.98,"h":13.05,"l":12.94,"c":13.02},{"t":145,"o":13.02,"h":13.04,"l":12.9,"c":12.95},{"t":146,"o":12.95,"h":12.98,"l":12.85,"c":12.9},{"t":147,"o":12.9,"h":12.94,"l":12.83,"c":12.88},{"t":148,"o":12.88,"h":12.9,"l":12.8,"c":12.85},{"t":149,"o":12.85,"h":12.95,"l":12.83,"c":12.9},
{"t":150,"o":12.9,"h":13.85,"l":12.88,"c":13.8},{"t":151,"o":13.8,"h":14.0,"l":13.76,"c":13.85},{"t":152,"o":13.85,"h":13.92,"l":13.8,"c":13.88},{"t":153,"o":13.88,"h":13.95,"l":13.84,"c":13.9},{"t":154,"o":13.9,"h":13.93,"l":13.8,"c":13.85},{"t":155,"o":13.85,"h":13.95,"l":13.82,"c":13.9},{"t":156,"o":13.9,"h":13.92,"l":13.8,"c":13.85},{"t":157,"o":13.85,"h":13.88,"l":13.75,"c":13.8},{"t":158,"o":13.8,"h":13.83,"l":13.7,"c":13.75},{"t":159,"o":13.75,"h":13.78,"l":13.66,"c":13.72},
{"t":160,"o":13.72,"h":13.82,"l":13.7,"c":13.78},{"t":161,"o":13.78,"h":13.8,"l":13.65,"c":13.7},{"t":162,"o":13.7,"h":13.72,"l":13.6,"c":13.65},{"t":163,"o":13.65,"h":13.74,"l":13.62,"c":13.7},{"t":164,"o":13.7,"h":13.94,"l":13.68,"c":13.75},{"t":165,"o":13.75,"h":13.78,"l":13.63,"c":13.68},{"t":166,"o":13.68,"h":13.7,"l":13.6,"c":13.65},{"t":167,"o":13.65,"h":13.76,"l":13.62,"c":13.72},{"t":168,"o":13.72,"h":13.88,"l":13.7,"c":13.8},{"t":169,"o":13.78,"h":13.8,"l":13.66,"c":13.7},
{"t":170,"o":13.7,"h":13.73,"l":13.6,"c":13.68},{"t":171,"o":13.68,"h":13.76,"l":13.65,"c":13.72},{"t":172,"o":13.72,"h":13.75,"l":13.64,"c":13.7},{"t":173,"o":13.7,"h":13.72,"l":13.6,"c":13.66},{"t":174,"o":13.66,"h":13.85,"l":13.64,"c":13.8},{"t":175,"o":13.8,"h":14.05,"l":13.78,"c":14.0},{"t":176,"o":14.0,"h":14.35,"l":13.98,"c":14.3},{"t":177,"o":14.35,"h":14.4,"l":14.18,"c":14.22},{"t":178,"o":14.25,"h":15.05,"l":14.2,"c":14.75},{"t":179,"o":14.7,"h":14.75,"l":14.35,"c":14.4},
{"t":180,"o":14.45,"h":14.5,"l":14.3,"c":14.35},{"t":181,"o":14.35,"h":14.4,"l":14.25,"c":14.3},{"t":182,"o":14.3,"h":14.33,"l":14.15,"c":14.2},{"t":183,"o":14.2,"h":14.22,"l":14.0,"c":14.05},{"t":184,"o":14.05,"h":14.15,"l":13.98,"c":14.1},{"t":185,"o":14.15,"h":14.55,"l":14.12,"c":14.5},{"t":186,"o":14.85,"h":15.0,"l":14.25,"c":14.3},{"t":187,"o":14.3,"h":14.33,"l":14.05,"c":14.1},{"t":188,"o":14.1,"h":14.12,"l":13.9,"c":13.95},{"t":189,"o":13.95,"h":13.98,"l":13.8,"c":13.85},
{"t":190,"o":13.85,"h":13.88,"l":13.72,"c":13.78},{"t":191,"o":13.78,"h":13.8,"l":13.65,"c":13.7},{"t":192,"o":13.7,"h":13.72,"l":13.56,"c":13.62},{"t":193,"o":13.62,"h":13.7,"l":13.58,"c":13.65},{"t":194,"o":13.65,"h":13.68,"l":13.54,"c":13.6},{"t":195,"o":13.6,"h":13.74,"l":13.58,"c":13.7},{"t":196,"o":13.7,"h":13.82,"l":13.68,"c":13.78},{"t":197,"o":13.78,"h":13.85,"l":13.75,"c":13.8},{"t":198,"o":13.8,"h":13.83,"l":13.7,"c":13.75},{"t":199,"o":13.75,"h":13.86,"l":13.73,"c":13.82},
{"t":200,"o":13.82,"h":13.9,"l":13.8,"c":13.85},{"t":201,"o":13.85,"h":13.87,"l":13.76,"c":13.8},{"t":202,"o":13.8,"h":13.83,"l":13.74,"c":13.78},{"t":203,"o":13.78,"h":13.8,"l":13.68,"c":13.72},{"t":204,"o":13.72,"h":13.75,"l":13.64,"c":13.68},{"t":205,"o":13.68,"h":13.7,"l":13.6,"c":13.65},{"t":206,"o":13.65,"h":13.67,"l":13.55,"c":13.6},{"t":207,"o":13.6,"h":13.63,"l":13.5,"c":13.55},{"t":208,"o":13.55,"h":13.62,"l":13.52,"c":13.58},{"t":209,"o":13.58,"h":13.6,"l":13.46,"c":13.5},
{"t":210,"o":13.5,"h":13.54,"l":13.44,"c":13.48},{"t":211,"o":13.48,"h":13.5,"l":13.4,"c":13.45},{"t":212,"o":13.45,"h":13.47,"l":13.38,"c":13.42},{"t":213,"o":13.42,"h":13.48,"l":13.4,"c":13.45},{"t":214,"o":13.45,"h":13.47,"l":13.34,"c":13.38},{"t":215,"o":13.38,"h":13.4,"l":13.3,"c":13.35},{"t":216,"o":13.35,"h":13.42,"l":13.32,"c":13.38},{"t":217,"o":13.38,"h":13.4,"l":13.25,"c":13.32},{"t":218,"o":13.32,"h":13.38,"l":13.29,"c":13.35},{"t":219,"o":13.35,"h":13.49,"l":13.33,"c":13.42},
{"t":220,"o":13.42,"h":13.5,"l":13.4,"c":13.45},{"t":221,"o":13.45,"h":13.47,"l":13.36,"c":13.4},{"t":222,"o":13.4,"h":13.43,"l":13.34,"c":13.38},{"t":223,"o":13.38,"h":13.4,"l":13.1,"c":13.15},{"t":224,"o":13.15,"h":13.18,"l":13.05,"c":13.1},{"t":225,"o":13.1,"h":13.12,"l":13.0,"c":13.05},{"t":226,"o":12.85,"h":12.86,"l":12.6,"c":12.6},{"t":227,"o":13.08,"h":13.2,"l":13.05,"c":13.15},{"t":228,"o":13.15,"h":13.18,"l":13.08,"c":13.12},{"t":229,"o":13.12,"h":13.14,"l":13.05,"c":13.1},
{"t":230,"o":13.1,"h":13.2,"l":13.08,"c":13.15},{"t":231,"o":13.15,"h":13.17,"l":13.07,"c":13.12},{"t":232,"o":13.12,"h":13.14,"l":13.02,"c":13.08},{"t":233,"o":13.08,"h":13.1,"l":12.98,"c":13.05},{"t":234,"o":13.05,"h":13.07,"l":12.95,"c":13.0},{"t":235,"o":13.0,"h":13.06,"l":12.86,"c":13.02},{"t":236,"o":13.02,"h":13.1,"l":13.0,"c":13.05},{"t":237,"o":13.05,"h":13.16,"l":13.03,"c":13.12},{"t":238,"o":13.12,"h":13.25,"l":13.1,"c":13.2},{"t":239,"o":13.2,"h":13.23,"l":13.14,"c":13.18},
{"t":240,"o":13.18,"h":13.2,"l":13.1,"c":13.15},{"t":241,"o":13.13,"h":13.18,"l":13.1,"c":13.15},{"t":242,"o":13.15,"h":13.22,"l":13.12,"c":13.18},{"t":243,"o":13.18,"h":13.2,"l":13.11,"c":13.15},{"t":244,"o":13.15,"h":13.24,"l":13.13,"c":13.2},{"t":245,"o":13.2,"h":13.22,"l":13.14,"c":13.18},{"t":246,"o":13.18,"h":13.2,"l":13.1,"c":13.15},{"t":247,"o":13.15,"h":13.24,"l":13.12,"c":13.2},{"t":248,"o":13.2,"h":13.27,"l":13.18,"c":13.22},{"t":249,"o":13.22,"h":13.24,"l":13.14,"c":13.18},
{"t":250,"o":13.18,"h":13.24,"l":13.15,"c":13.2},{"t":251,"o":13.2,"h":13.22,"l":13.1,"c":13.15},{"t":252,"o":13.1,"h":13.35,"l":13.08,"c":13.32},{"t":253,"o":13.32,"h":13.4,"l":13.3,"c":13.35},{"t":254,"o":13.35,"h":13.45,"l":13.33,"c":13.4},{"t":255,"o":13.4,"h":13.46,"l":13.37,"c":13.42},{"t":256,"o":13.42,"h":13.5,"l":13.4,"c":13.45},{"t":257,"o":13.45,"h":13.48,"l":13.38,"c":13.42},{"t":258,"o":13.42,"h":13.44,"l":13.34,"c":13.38},{"t":259,"o":13.38,"h":13.5,"l":13.36,"c":13.45},
{"t":260,"o":13.45,"h":13.65,"l":13.43,"c":13.6},{"t":261,"o":13.6,"h":13.85,"l":13.58,"c":13.65},{"t":262,"o":13.65,"h":13.76,"l":13.62,"c":13.7},{"t":263,"o":13.7,"h":13.72,"l":13.58,"c":13.62},{"t":264,"o":13.62,"h":13.7,"l":13.6,"c":13.65},{"t":265,"o":13.65,"h":13.72,"l":13.62,"c":13.68},{"t":266,"o":13.68,"h":13.7,"l":13.58,"c":13.62},{"t":267,"o":13.62,"h":13.65,"l":13.55,"c":13.6},{"t":268,"o":13.6,"h":13.62,"l":13.53,"c":13.58},{"t":269,"o":13.58,"h":13.6,"l":13.45,"c":13.5},
{"t":270,"o":13.5,"h":13.53,"l":13.38,"c":13.42},{"t":271,"o":13.42,"h":13.45,"l":13.33,"c":13.38},{"t":272,"o":13.38,"h":13.4,"l":13.3,"c":13.35},{"t":273,"o":13.35,"h":13.44,"l":13.33,"c":13.4},{"t":274,"o":13.4,"h":13.5,"l":13.38,"c":13.45},{"t":275,"o":13.45,"h":13.52,"l":13.43,"c":13.48},{"t":276,"o":13.48,"h":13.5,"l":13.38,"c":13.42},{"t":277,"o":13.42,"h":13.48,"l":13.4,"c":13.45},{"t":278,"o":13.45,"h":13.52,"l":13.43,"c":13.48},{"t":279,"o":13.48,"h":13.55,"l":13.46,"c":13.5},
{"t":280,"o":13.5,"h":13.52,"l":13.4,"c":13.45},{"t":281,"o":13.45,"h":13.47,"l":13.38,"c":13.42},{"t":282,"o":13.42,"h":13.44,"l":13.35,"c":13.4},{"t":283,"o":13.4,"h":13.42,"l":13.33,"c":13.38},{"t":284,"o":13.38,"h":13.4,"l":13.3,"c":13.35},{"t":285,"o":13.35,"h":13.42,"l":13.33,"c":13.38},{"t":286,"o":13.38,"h":13.4,"l":13.3,"c":13.35},{"t":287,"o":13.35,"h":13.37,"l":13.27,"c":13.32},{"t":288,"o":13.32,"h":13.34,"l":13.25,"c":13.3},{"t":289,"o":13.3,"h":13.32,"l":13.22,"c":13.28},
{"t":290,"o":13.28,"h":13.36,"l":13.26,"c":13.32},{"t":291,"o":13.32,"h":13.34,"l":13.2,"c":13.25},{"t":292,"o":13.25,"h":13.32,"l":13.22,"c":13.28},{"t":293,"o":13.28,"h":13.3,"l":13.18,"c":13.22},{"t":294,"o":13.22,"h":13.28,"l":13.2,"c":13.25},{"t":295,"o":13.25,"h":13.34,"l":13.23,"c":13.3},{"t":296,"o":13.3,"h":13.4,"l":13.28,"c":13.35},{"t":297,"o":13.35,"h":13.45,"l":13.33,"c":13.4},{"t":298,"o":13.4,"h":13.5,"l":13.38,"c":13.45},{"t":299,"o":13.45,"h":13.52,"l":13.42,"c":13.48},
{"t":300,"o":13.48,"h":13.55,"l":13.45,"c":13.5},{"t":301,"o":13.5,"h":13.58,"l":13.47,"c":13.52},{"t":302,"o":13.52,"h":13.55,"l":13.45,"c":13.5},{"t":303,"o":13.5,"h":13.6,"l":13.48,"c":13.55},{"t":304,"o":13.55,"h":13.62,"l":13.52,"c":13.58},{"t":305,"o":13.58,"h":13.66,"l":13.55,"c":13.62},{"t":306,"o":13.62,"h":13.7,"l":13.6,"c":13.65},{"t":307,"o":13.65,"h":13.72,"l":13.62,"c":13.68},{"t":308,"o":13.68,"h":13.7,"l":13.6,"c":13.65},{"t":309,"o":13.65,"h":13.75,"l":13.63,"c":13.7},
{"t":310,"o":13.7,"h":13.8,"l":13.68,"c":13.75},{"t":311,"o":13.75,"h":13.82,"l":13.72,"c":13.78},{"t":312,"o":13.78,"h":13.92,"l":13.76,"c":13.82},{"t":313,"o":13.82,"h":13.85,"l":13.76,"c":13.8},{"t":314,"o":13.8,"h":13.9,"l":13.78,"c":13.85},{"t":315,"o":13.85,"h":13.87,"l":13.74,"c":13.78},{"t":316,"o":13.78,"h":13.8,"l":13.7,"c":13.75},{"t":317,"o":13.75,"h":13.82,"l":13.73,"c":13.78},{"t":318,"o":13.78,"h":13.85,"l":13.76,"c":13.8},{"t":319,"o":13.8,"h":13.82,"l":13.74,"c":13.78},
{"t":320,"o":13.78,"h":13.8,"l":13.7,"c":13.75},{"t":321,"o":13.75,"h":13.82,"l":13.73,"c":13.78},{"t":322,"o":13.78,"h":13.8,"l":13.72,"c":13.76},{"t":323,"o":13.76,"h":13.84,"l":13.74,"c":13.8},{"t":324,"o":13.8,"h":13.82,"l":13.72,"c":13.75},{"t":325,"o":13.75,"h":13.82,"l":13.73,"c":13.78},{"t":326,"o":13.78,"h":13.8,"l":13.68,"c":13.72},{"t":327,"o":13.72,"h":13.74,"l":13.65,"c":13.7},{"t":328,"o":13.7,"h":13.72,"l":13.58,"c":13.62},{"t":329,"o":13.62,"h":13.65,"l":13.55,"c":13.6},
{"t":330,"o":13.6,"h":13.62,"l":13.52,"c":13.58},{"t":331,"o":13.58,"h":13.6,"l":13.46,"c":13.52},{"t":332,"o":13.52,"h":13.55,"l":13.44,"c":13.5},{"t":333,"o":13.5,"h":13.56,"l":13.47,"c":13.52},{"t":334,"o":13.52,"h":13.54,"l":13.42,"c":13.48},{"t":335,"o":13.48,"h":13.54,"l":13.45,"c":13.5},{"t":336,"o":13.5,"h":13.52,"l":13.4,"c":13.45},{"t":337,"o":13.45,"h":13.58,"l":13.42,"c":13.55},{"t":338,"o":13.5,"h":13.78,"l":13.48,"c":13.75},{"t":339,"o":13.75,"h":13.84,"l":13.7,"c":13.8},
{"t":340,"o":13.8,"h":13.95,"l":13.78,"c":13.9},{"t":341,"o":13.9,"h":14.0,"l":13.86,"c":13.95},{"t":342,"o":13.95,"h":14.2,"l":13.92,"c":14.1},{"t":343,"o":14.1,"h":14.14,"l":14.0,"c":14.05},{"t":344,"o":14.05,"h":14.22,"l":14.02,"c":14.15},{"t":345,"o":14.15,"h":14.18,"l":14.05,"c":14.1},{"t":346,"o":14.1,"h":14.12,"l":14.0,"c":14.05},{"t":347,"o":14.05,"h":14.16,"l":14.03,"c":14.12},{"t":348,"o":14.12,"h":14.2,"l":14.1,"c":14.15},{"t":349,"o":14.15,"h":14.18,"l":14.06,"c":14.1},
{"t":350,"o":14.1,"h":14.2,"l":14.08,"c":14.15},{"t":351,"o":14.15,"h":14.17,"l":14.08,"c":14.12},{"t":352,"o":14.12,"h":14.22,"l":14.1,"c":14.18},{"t":353,"o":14.18,"h":14.26,"l":14.15,"c":14.22},{"t":354,"o":14.22,"h":14.3,"l":14.2,"c":14.25},{"t":355,"o":14.25,"h":14.38,"l":14.23,"c":14.3},{"t":356,"o":14.3,"h":14.32,"l":14.2,"c":14.25},{"t":357,"o":14.25,"h":14.34,"l":14.22,"c":14.3},{"t":358,"o":14.3,"h":14.32,"l":14.18,"c":14.22},{"t":359,"o":14.22,"h":14.45,"l":14.2,"c":14.25},
{"t":360,"o":14.25,"h":14.28,"l":13.98,"c":14.15},{"t":361,"o":14.15,"h":14.24,"l":14.1,"c":14.2},{"t":362,"o":14.2,"h":14.45,"l":14.15,"c":14.4},{"t":363,"o":14.45,"h":14.7,"l":14.45,"c":14.65}
]
},
"encoding": {
"x": {"field": "t", "type": "quantitative", "scale": {"domain": [-0.5, 383], "nice": false, "zero": false, "padding": 0},
"axis": {"title": null, "grid": false,
"values": [10.5,32.5,49.5,70.5,93.5,111.5,132.5,155.5,177.5,198.5,219.5,237.5,256.5,278.5,297.5,317.5,339.5,361.5,382.5,0.5,5.5,15.5,20.5,25.5,37.5,42.5,54.5,59.5,64.5,75.5,80.5,85.5,90.5,98.5,103.5,108.5,116.5,121.5,126.5,137.5,142.5,147.5,152.5,160.5,165.5,170.5,182.5,187.5,192.5,203.5,208.5,213.5,224.5,229.5,234.5,242.5,247.5,252.5,261.5,266.5,271.5,283.5,288.5,293.5,302.5,307.5,312.5,322.5,327.5,332.5,344.5,349.5,354.5,366.5,371.5,376.5],
"labelExpr": "indexof([10.5,32.5,49.5,70.5,93.5,111.5,132.5,155.5,177.5,198.5,219.5,237.5,256.5,278.5,297.5,317.5,339.5,361.5,382.5], datum.value) >= 0 ? ['September','November','December','2011','February','March','April','May','June','July','August','September','October','November','December','2012','February','March','A'][indexof([10.5,32.5,49.5,70.5,93.5,111.5,132.5,155.5,177.5,198.5,219.5,237.5,256.5,278.5,297.5,317.5,339.5,361.5,382.5], datum.value)] : ''",
"tickSize": {"condition": {"test": "indexof([10.5,32.5,49.5,70.5,93.5,111.5,132.5,155.5,177.5,198.5,219.5,237.5,256.5,278.5,297.5,317.5,339.5,361.5,382.5], datum.value) >= 0", "value": 13}, "value": 3},
"labelAlign": {"condition": {"test": "datum.value == 10.5", "value": "right"}, "value": "left"},
"labelOffset": {"condition": {"test": "datum.value == 10.5", "value": -2}, "value": 2},
"labelPadding": -7, "labelBaseline": "top",
"labelFontSize": 8.5, "labelFontWeight": "bold", "labelColor": "#000000", "labelFont": "Liberation Sans",
"labelOverlap": false, "labelFlush": false, "labelBound": false,
"tickColor": "#000000", "domainColor": "#000000", "domainWidth": 1, "tickWidth": 1}
}
},
"layer": [
{"data": {"name": "months"}, "mark": {"type": "rule", "color": "#b4b4b4", "strokeWidth": 1, "strokeDash": [2, 2]}, "encoding": {}},
{"data": {"name": "bb"}, "mark": {"type": "line", "color": "#c4c4c4", "strokeWidth": 1, "clip": true},
 "encoding": {"y": {"field": "p", "type": "quantitative", "scale": {"domain": [11.927, 16.195], "nice": false, "zero": false, "padding": 0}, "axis": null}, "detail": {"field": "s"}}},
{"data": {"name": "trend"}, "mark": {"type": "line", "color": "#5a5a5a", "strokeWidth": 0.8, "clip": true},
 "encoding": {"y": {"field": "p", "type": "quantitative", "scale": {"domain": [11.927, 16.195], "nice": false, "zero": false, "padding": 0}, "axis": null}, "detail": {"field": "s"}}},
{"data": {"name": "candles"}, "mark": {"type": "rule", "strokeWidth": 1},
 "encoding": {
  "y": {"field": "l", "type": "quantitative", "scale": {"domain": [11.927, 16.195], "nice": false, "zero": false, "padding": 0},
   "axis": {"orient": "left", "title": null, "grid": false,
    "values": [11.95,12,12.05,12.1,12.15,12.2,12.25,12.3,12.35,12.4,12.45,12.5,12.55,12.6,12.65,12.7,12.75,12.8,12.85,12.9,12.95,13,13.05,13.1,13.15,13.2,13.25,13.3,13.35,13.4,13.45,13.5,13.55,13.6,13.65,13.7,13.75,13.8,13.85,13.9,13.95,14,14.05,14.1,14.15,14.2,14.25,14.3,14.35,14.4,14.45,14.5,14.55,14.6,14.65,14.7,14.75,14.8,14.85,14.9,14.95,15,15.05,15.1,15.15,15.2,15.25,15.3,15.35,15.4,15.45,15.5,15.55,15.6,15.65,15.7,15.75,15.8,15.85,15.9,15.95,16,16.05,16.1,16.15],
    "labelExpr": "round(datum.value*20) % 2 == 0 ? format(datum.value, '.1f') : ''",
    "tickSize": {"condition": {"test": "round(datum.value*20) % 2 == 0", "value": 5}, "value": 2},
    "labelFontSize": 8.5, "labelFontWeight": "bold", "labelColor": "#000000", "labelFont": "Liberation Sans", "labelPadding": 1,
    "labelOverlap": false, "labelFlush": false, "labelBound": false,
    "tickColor": "#000000", "domainColor": "#000000"}},
  "y2": {"field": "h"},
  "color": {"condition": {"test": "datum.c >= datum.o", "value": "#2e7a2e"}, "value": "#ff5050"}}},
{"data": {"name": "candles"}, "mark": {"type": "bar", "size": 2.2, "strokeWidth": 0.7},
 "encoding": {
  "y": {"field": "o", "type": "quantitative", "scale": {"domain": [11.927, 16.195], "nice": false, "zero": false, "padding": 0},
   "axis": {"orient": "right", "title": null, "grid": false, "domain": false,
    "values": [11.95,12,12.05,12.1,12.15,12.2,12.25,12.3,12.35,12.4,12.45,12.5,12.55,12.6,12.65,12.7,12.75,12.8,12.85,12.9,12.95,13,13.05,13.1,13.15,13.2,13.25,13.3,13.35,13.4,13.45,13.5,13.55,13.6,13.65,13.7,13.75,13.8,13.85,13.9,13.95,14,14.05,14.1,14.15,14.2,14.25,14.3,14.35,14.4,14.45,14.5,14.55,14.6,14.65,14.7,14.75,14.8,14.85,14.9,14.95,15,15.05,15.1,15.15,15.2,15.25,15.3,15.35,15.4,15.45,15.5,15.55,15.6,15.65,15.7,15.75,15.8,15.85,15.9,15.95,16,16.05,16.1,16.15],
    "labelExpr": "round(datum.value*20) % 2 == 0 ? format(datum.value, '.1f') : ''",
    "tickSize": {"condition": {"test": "round(datum.value*20) % 2 == 0", "value": 5}, "value": 2},
    "labelFontSize": 8.5, "labelFontWeight": "bold", "labelColor": "#000000", "labelFont": "Liberation Sans", "labelPadding": 4,
    "labelOverlap": false, "labelFlush": false, "labelBound": false,
    "tickColor": "#000000"}},
  "y2": {"field": "c"},
  "fill": {"condition": {"test": "datum.c >= datum.o", "value": "#5a9e5a"}, "value": "#ff0000"},
  "stroke": {"condition": {"test": "datum.c >= datum.o", "value": "#0b5d0b"}, "value": "#ff0000"}}},
{"data": {"name": "ma"}, "mark": {"type": "line", "clip": true},
 "encoding": {
  "y": {"field": "p", "type": "quantitative", "scale": {"domain": [11.927, 16.195], "nice": false, "zero": false, "padding": 0}, "axis": null},
  "color": {"field": "s", "type": "nominal", "scale": {"domain": ["p","g","lb","k","b","gt","r"], "range": ["#4d0b5e","#16a016","#7b9fcd","#000000","#00008f","#0a8a0a","#ff0000"]}, "legend": null},
  "strokeWidth": {"field": "s", "type": "nominal", "scale": {"domain": ["p","g","lb","k","b","gt","r"], "range": [1.3,1.5,1.2,1.2,1.1,1.0,1.0]}, "legend": null}}}
],
"resolve": {"axis": {"y": "independent"}}
}
